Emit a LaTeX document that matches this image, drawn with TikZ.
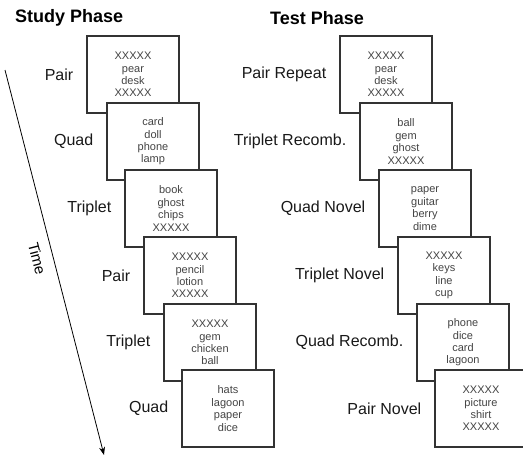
\documentclass[tikz,border=0pt]{standalone}
\usepackage{fontspec}
\setmainfont{Liberation Sans}
\usetikzlibrary{arrows.meta, positioning}
\definecolor{edgegray}{HTML}{333333}
\definecolor{wordgray}{HTML}{444444}
\tikzstyle{card} = [rectangle, minimum width=92pt, minimum height=77pt, inner sep=0pt, draw=edgegray, line width=1.1pt, fill=white, text=wordgray, align=center, font=\fontsize{11}{12.4}\selectfont]
\tikzstyle{kind} = [inner sep=0pt, anchor=east, text=black!90, font=\fontsize{16}{18}\selectfont]
\tikzstyle{phase} = [inner sep=0pt, anchor=west, font=\fontsize{18}{20}\selectfont\bfseries]
\tikzstyle{arrow} = [thick, -{Stealth[length=8pt, width=6pt]}, black]

\begin{document}
\begin{tikzpicture}[x=1pt, y=-1pt]
\useasboundingbox (0,0) rectangle (523,458);
\clip (0,0) rectangle (523,458);

% Headings
\node (study) [phase] at (15,18) {Study Phase};
\node (test) [phase] at (270,18) {Test Phase};

% Time axis
\coordinate (tstart) at (5,70);
\coordinate (tend) at (104,455);
\draw [arrow] (tstart) -- node[pos=0.48, sloped, below=10pt, inner sep=0pt, font=\fontsize{15}{17}\selectfont] (timelabel) {Time} (tend);

% Study phase cards
\node (s1) [card] at (133,74.5) {XXXXX\\pear\\desk\\XXXXX};
\node (s2) [card] at (153,141.5) {card\\doll\\phone\\lamp};
\node (s3) [card] at (171,208.5) {book\\ghost\\chips\\XXXXX};
\node (s4) [card] at (190,275.5) {XXXXX\\pencil\\lotion\\XXXXX};
\node (s5) [card] at (210,342.5) {XXXXX\\gem\\chicken\\ball};
\node (s6) [card] at (228,408.5) {hats\\lagoon\\paper\\dice};

\node (sl1) [kind, left=13pt of s1] {Pair};
\node (sl2) [kind, left=13pt of s2] {Quad};
\node (sl3) [kind, left=13pt of s3] {Triplet};
\node (sl4) [kind, left=13pt of s4] {Pair};
\node (sl5) [kind, left=13pt of s5] {Triplet};
\node (sl6) [kind, left=13pt of s6] {Quad};

% Test phase cards
\node (t1) [card] at (386,74.5) {XXXXX\\pear\\desk\\XXXXX};
\node (t2) [card] at (406,141.5) {ball\\gem\\ghost\\XXXXX};
\node (t3) [card] at (425,208.5) {paper\\guitar\\berry\\dime};
\node (t4) [card] at (444,275.5) {XXXXX\\keys\\line\\cup};
\node (t5) [card] at (463,342.5) {phone\\dice\\card\\lagoon};
\node (t6) [card] at (481,408.5) {XXXXX\\picture\\shirt\\XXXXX};

\node (tl1) [kind, left=13pt of t1] {Pair Repeat};
\node (tl2) [kind, left=13pt of t2] {Triplet Recomb.};
\node (tl3) [kind, left=13pt of t3] {Quad Novel};
\node (tl4) [kind, left=13pt of t4] {Triplet Novel};
\node (tl5) [kind, left=13pt of t5] {Quad Recomb.};
\node (tl6) [kind, left=13pt of t6] {Pair Novel};

\end{tikzpicture}
\end{document}
